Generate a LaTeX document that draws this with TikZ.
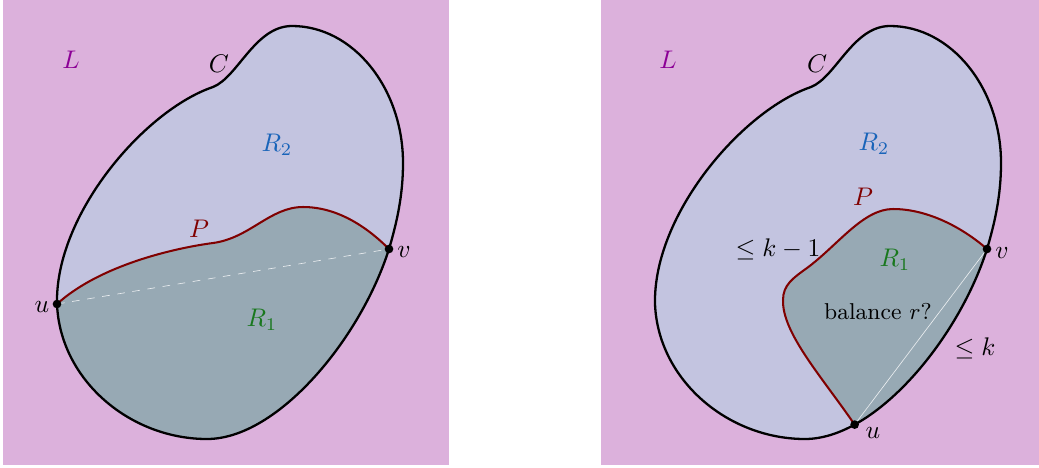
\documentclass[tikz,border=0pt]{standalone}
\usepackage{amsmath,amssymb}
\usepackage{tikz}
\definecolor{bgpurple}{RGB}{220,177,220}
\definecolor{outerfill}{RGB}{195,196,224}
\definecolor{innerfill}{RGB}{151,169,180}
\definecolor{pathred}{RGB}{128,0,0}
\definecolor{lcol}{RGB}{140,0,150}
\definecolor{rtwo}{RGB}{25,100,185}
\definecolor{rone}{RGB}{25,120,30}
\newcommand{\curveC}{(292,26) .. controls (353,26) and (403,88) .. (403,163)
  .. controls (403,195) and (397,222) .. (389,249)
  .. controls (366.7,319.1) and (312.3,393.9) .. (256.6,424.6)
  .. controls (239.9,433.8) and (223.1,439) .. (207,439)
  .. controls (130,439) and (60,380) .. (57,304)
  .. controls (55,214) and (145,110) .. (213,87)
  .. controls (238,77) and (255,26) .. (292,26) -- cycle}
\newcommand{\pathPa}{(57,304) .. controls (100,265) and (175,248) .. (213,243)
  .. controls (250,238) and (270,207) .. (303,207)
  .. controls (340,207) and (370,230) .. (389,249)}
\newcommand{\pathPb}{(256.6,424.6) .. controls (224,377) and (184,333) .. (185,300)
  .. controls (185,285) and (195,278) .. (209,268)
  .. controls (240,245) and (265,209) .. (295,209)
  .. controls (330,209) and (365,228) .. (389,249)}

\begin{document}
\begin{tikzpicture}[x=0.0138cm,y=-0.0138cm]
    \tikzstyle{region}=[line width=0.9pt]
    \tikzstyle{pth}=[pathred, line width=0.8pt]
    \tikzstyle{chord}=[white, line width=0.25pt, opacity=0.8]
    \tikzstyle{lbl}=[inner sep=1pt]

    \useasboundingbox (0,0) rectangle (1039,467);

    % left: P splits C into R_1 and R_2
    \fill[bgpurple] (3,0) rectangle (449,465);
    \fill[outerfill] \curveC;
    \begin{scope}
      \clip \curveC;
      \fill[innerfill] \pathPa -- (430,249) -- (430,470) -- (20,470) -- (20,304) -- cycle;
    \end{scope}
    \coordinate (u1) at (57,304);
    \coordinate (v1) at (389,249);
    \draw[chord, dashed] (u1) -- (v1);
    \draw[pth] \pathPa;
    \draw[region] \curveC;
    \fill (u1) circle (1.7pt);
    \fill (v1) circle (1.7pt);

    \node[lbl, text=lcol] (L1) at (71,60) {$L$};
    \node[lbl] (C1) at (219,64) {$C$};
    \node[lbl, text=rtwo] (R2a) at (277,145) {$R_2$};
    \node[lbl, text=pathred] (P1) at (199,229) {$P$};
    \node[lbl, text=rone] (R1a) at (262,320) {$R_1$};
    \node[lbl] (ulbl1) at (42,307) {$u$};
    \node[lbl] (vlbl1) at (404,252) {$v$};

    % right: same C, u moved to the bottom
    \begin{scope}[shift={(598,0)}]
      \fill[bgpurple] (3,0) rectangle (441,465);
      \fill[outerfill] \curveC;
      \begin{scope}
        \clip \curveC;
        \fill[innerfill] \pathPb -- (441,249) -- (441,470) -- (256.6,470) -- cycle;
      \end{scope}
      \coordinate (u2) at (256.6,424.6);
      \coordinate (v2) at (389,249);
      \draw[chord] (u2) -- (v2);
      \draw[pth] \pathPb;
      \draw[region] \curveC;
      \fill (u2) circle (1.7pt);
      \fill (v2) circle (1.7pt);

      \node[lbl, text=lcol] (L2) at (70,60) {$L$};
      \node[lbl] (C2) at (219,64) {$C$};
      \node[lbl, text=rtwo] (R2b) at (276,144) {$R_2$};
      \node[lbl, text=pathred] (P2) at (265,197) {$P$};
      \node[lbl, text=rone] (R1b) at (297,260) {$R_1$};
      \node[lbl] (lek1) at (180,249) {$\le k-1$};
      \node[lbl, font=\small] (bal) at (280,312) {balance $r$?};
      \node[lbl] (lek) at (377,348) {$\le k$};
      \node[lbl] (ulbl2) at (275,433) {$u$};
      \node[lbl] (vlbl2) at (404,253) {$v$};
    \end{scope}
\end{tikzpicture}
\end{document}
